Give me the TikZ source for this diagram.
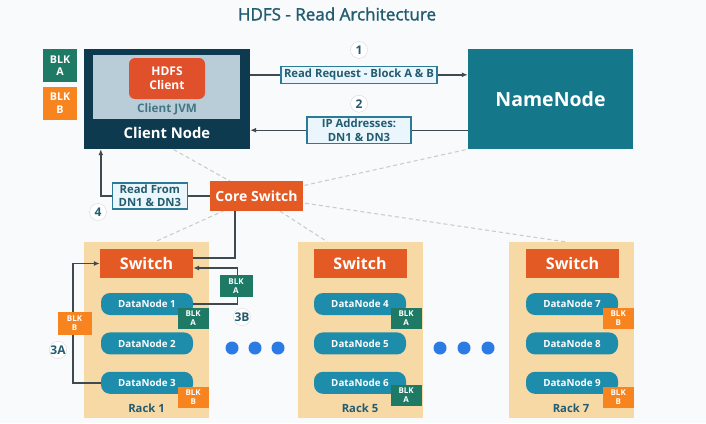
\documentclass[tikz,border=0pt]{standalone}
\usepackage{fontspec}
\setmainfont{Open Sans}
\newfontfamily\titlefont[FakeBold=1.6]{Open Sans}
\usetikzlibrary{arrows.meta,positioning,backgrounds}

\definecolor{navy}{HTML}{0E3A50}
\definecolor{jvmgray}{HTML}{B9CDD8}
\definecolor{hdfsred}{HTML}{E0502B}
\definecolor{nnteal}{HTML}{15788A}
\definecolor{swred}{HTML}{E45A24}
\definecolor{dnblue}{HTML}{1E8DAB}
\definecolor{blkgreen}{HTML}{1E7A64}
\definecolor{blkorange}{HTML}{F7841F}
\definecolor{racktan}{HTML}{F7D9A6}
\definecolor{txtteal}{HTML}{235C70}
\definecolor{lblfill}{HTML}{EAF6FB}
\definecolor{lbldraw}{HTML}{2C7B96}
\definecolor{linegray}{HTML}{3E4A50}
\definecolor{dotblue}{HTML}{2A7BE4}
\definecolor{bgwhite}{HTML}{F8FAFB}

\newcommand{\setfs}[2]{\fontsize{#1}{#2}\selectfont}

\begin{document}
\begin{tikzpicture}[
      x=1pt, y=-1pt,
      blk/.style={fill=blkgreen, text=white, minimum width=31pt, minimum height=21pt, inner sep=0pt, align=center, font=\bfseries\setfs{8}{9}},
      bigblk/.style={blk, minimum width=34pt, minimum height=33pt, font=\bfseries\setfs{10.7}{12.5}},
      sw/.style={fill=swred, text=white, minimum width=93pt, minimum height=29pt, inner sep=0pt, font=\bfseries\setfs{16}{18}},
      dn/.style={fill=dnblue, text=white, rounded corners=9pt, minimum width=92pt, minimum height=22pt, inner sep=0pt, font=\bfseries\setfs{9.8}{11}},
      rack/.style={fill=racktan, minimum width=125pt, minimum height=176pt, inner sep=0pt},
      racklbl/.style={text=txtteal, font=\bfseries\setfs{11.3}{12}},
      lbl/.style={fill=lblfill, draw=lbldraw, line width=1.3pt, text=txtteal, align=center, inner xsep=3pt, inner ysep=2pt, minimum height=17pt, font=\bfseries\setfs{11.3}{13.5}},
      num/.style={circle, fill=white, draw=gray!30, text=txtteal, minimum size=17pt, inner sep=0pt, font=\bfseries\setfs{12}{12}},
      arr/.style={-{Latex[length=6pt,width=5pt]}, line width=1.4pt, draw=linegray},
      link/.style={line width=1.4pt, draw=linegray},
      net/.style={gray!40, line width=1.1pt, dash pattern=on 4pt off 3pt},
      node distance=17pt,
    ]
    \useasboundingbox (0,0) rectangle (706,423);
    \node (title) [text=txtteal, font=\titlefont\setfs{17}{20}] at (337,14) {HDFS - Read Architecture};

    % Client node and name node
    \node (client) [fill=navy, minimum width=166pt, minimum height=100pt, inner sep=0pt] at (167,99) {};
    \node (jvm) [fill=jvmgray, minimum width=147pt, minimum height=64pt, inner sep=0pt] at (166.5,87) {};
    \node (hdfs) [fill=hdfsred, rounded corners=6pt, minimum width=76pt, minimum height=41pt, inner sep=0pt, text=white, align=center, font=\bfseries\setfs{12}{14}] at (167,78.5) {HDFS\\Client};
    \node (jvmtxt) [text=txtteal!85, font=\bfseries\setfs{11.7}{12}] at (167,109) {Client JVM};
    \node (cntxt) [text=white, font=\bfseries\setfs{14.8}{16}] at (167,133) {Client Node};
    \node (blka) [bigblk] at (60,65.5) {BLK\\A};
    \node (blkb) [bigblk, fill=blkorange] at (60,103) {BLK\\B};
    \node (nn) [fill=nnteal, text=white, minimum width=165pt, minimum height=100pt, inner sep=0pt, font=\bfseries\setfs{19.5}{20}] at (550.5,99) {NameNode};

    \draw [arr] ([yshift=-26pt]client.north east) -- node [lbl] (req) {Read Request - Block A \& B} ([yshift=-26pt]nn.north west);
    \draw [arr] ([yshift=19pt]nn.south west) -- node [lbl, minimum width=104pt] (ips) {IP Addresses:\\DN1 \& DN3} ([yshift=19pt]client.south east);
    \node (n1) [num, above=7pt of req] {1};
    \node (n2) [num, above=4pt of ips] {2};

    % Core switch
    \node (core) [sw, minimum height=30pt, font=\bfseries\setfs{14}{16}] at (256.5,196) {Core Switch};
    \draw [arr] (core.west) -- node [lbl, pos=0.55, minimum width=75pt] (rd) {Read From\\DN1 \& DN3} ([xshift=17pt]client.south west |- core.west) -- ([xshift=17pt]client.south west);
    \node (n4) [num] at (98,212) {4};

    % Racks
    \node (rack1) [rack] at (146.5,330) {};
    \node (rack5) [rack] at (360,330) {};
    \node (rack7) [rack] at (571,330) {};
    \node (sw1) [sw] at (146.5,263.5) {Switch};
    \node (sw5) [sw] at (360,263.5) {Switch};
    \node (sw7) [sw] at (572.5,263.5) {Switch};

    \node (dn1) [dn] at (147,304) {DataNode 1};
    \node (dn2) [dn, below=of dn1] {DataNode 2};
    \node (dn3) [dn, below=of dn2] {DataNode 3};
    \node (dn4) [dn] at (360,304) {DataNode 4};
    \node (dn5) [dn, below=of dn4] {DataNode 5};
    \node (dn6) [dn, below=of dn5] {DataNode 6};
    \node (dn7) [dn] at (572,304) {DataNode 7};
    \node (dn8) [dn, below=of dn7] {DataNode 8};
    \node (dn9) [dn, below=of dn8] {DataNode 9};

    \node (b1) [blk] at ([yshift=-3pt]dn1.south east) {BLK\\A};
    \node (b3) [blk, fill=blkorange] at ([yshift=-3pt]dn3.south east) {BLK\\B};
    \node (b4) [blk] at ([yshift=-3pt]dn4.south east) {BLK\\A};
    \node (b6) [blk] at ([yshift=-1pt]dn6.south east) {BLK\\A};
    \node (b7) [blk, fill=blkorange] at ([yshift=-3pt]dn7.south east) {BLK\\B};
    \node (b9) [blk, fill=blkorange] at ([yshift=-3pt]dn9.south east) {BLK\\B};

    \node (r1) [racklbl] at ([yshift=10pt]rack1.south) {Rack 1};
    \node (r5) [racklbl] at ([yshift=10pt]rack5.south) {Rack 5};
    \node (r7) [racklbl] at ([yshift=10pt]rack7.south) {Rack 7};

    % Reads from DN1 and DN3
    \draw [link] ([xshift=-21.5pt]core.south) |- ([yshift=5.5pt]sw1.east);
    \draw [arr] (dn1.east) -- ++(44,0) |- ([yshift=-4.5pt]sw1.east);
    \node (b3b) [blk, minimum width=33pt, minimum height=22pt] at (236,286) {BLK\\A};
    \node (n3b) [num] at (242,317) {3B};
    \draw [arr] (dn3.west) -- ++(-28,0) |- (sw1.west);
    \node (b3a) [blk, fill=blkorange, minimum width=34pt, minimum height=23pt] at (74.5,323) {BLK\\B};
    \node (n3a) [num] at (58,350) {3A};

    \foreach \x in {232,255,278,440,464,488}
      \fill [dotblue] (\x,348) circle (6.5pt);

    \begin{scope}[on background layer]
      \fill [bgwhite] (0,0) rectangle (706,423);
      \draw [net] (core.center) -- ([xshift=6pt]client.south);
      \draw [net] (core.center) -- (nn.south west);
      \draw [net] (core.center) -- ([xshift=8.5pt]rack1.north);
      \draw [net] (core.center) -- ([xshift=30pt]rack5.north west);
      \draw [net] (core.center) -- ([xshift=-6pt]rack7.north);
    \end{scope}
  \end{tikzpicture}
\end{document}
